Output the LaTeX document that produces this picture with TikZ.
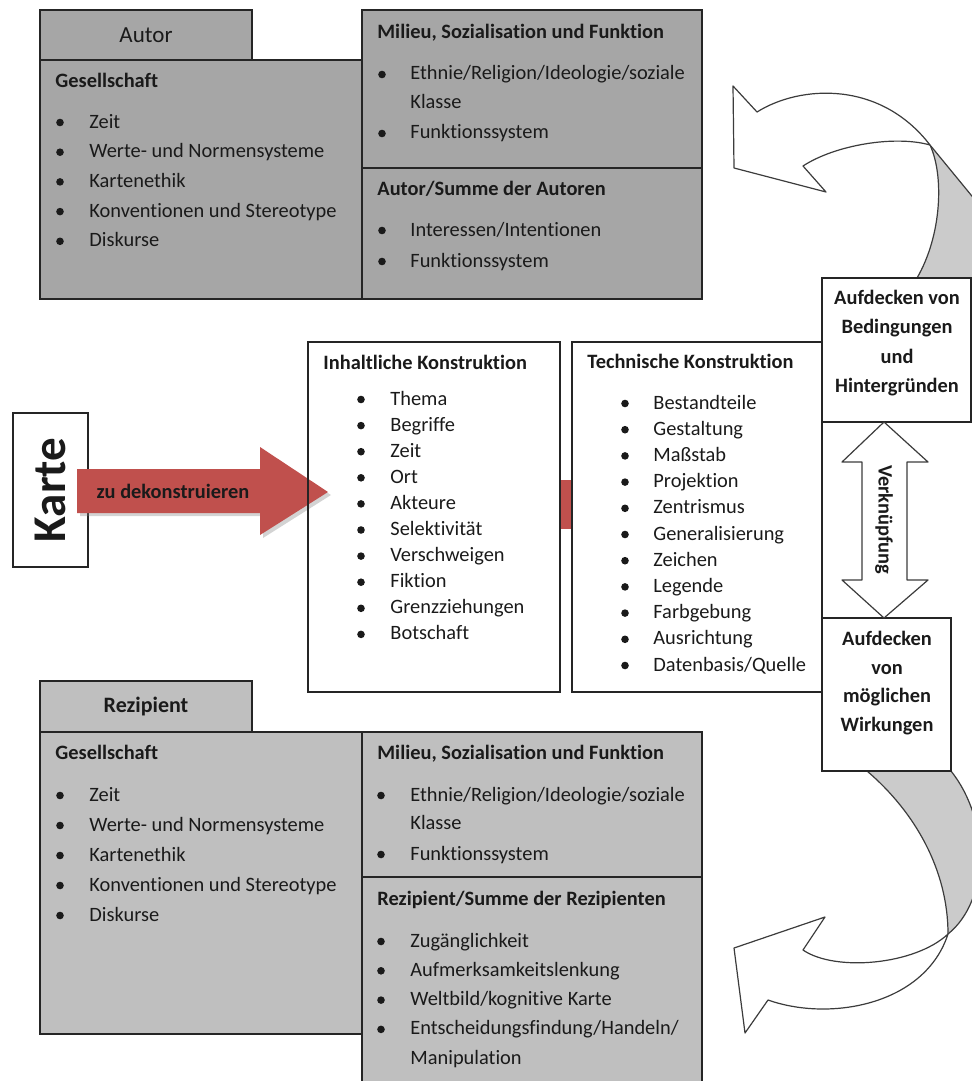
\documentclass[tikz,border=0pt]{standalone}
\usepackage{fontspec}
\setmainfont{Carlito}[Ligatures=NoCommon]
\usetikzlibrary{fit,shadows}
\definecolor{topgray}{HTML}{A6A6A6}
\definecolor{botgray}{HTML}{BFBFBF}
\definecolor{arrowred}{HTML}{C0504D}
\definecolor{bandgray}{HTML}{CBCBCB}
\definecolor{ink}{HTML}{1A1A1A}
\newcommand\fs{\fontsize{10.2}{14.7}\selectfont}
\newcommand\mylist[6]{%
  \foreach \t [count=\i] in {#6}{%
    \node[bul] (#1b\i) at (#2,{#4+(\i-1)*#5-5.5}) {};
    \node[txt] (#1t\i) at (#3,{#4+(\i-1)*#5}) {\t};
  }}
\begin{document}
\begin{tikzpicture}[x=0.5pt,y=-0.5pt,
  frame/.style={draw=ink!95, line width=1pt, inner sep=0pt, outer sep=0pt},
  gbox/.style={frame, fill=topgray},
  lbox/.style={frame, fill=botgray},
  wbox/.style={frame},
  txt/.style={inner sep=0pt, anchor=base west, font=\fs, text=ink},
  head/.style={txt, font=\fs\bfseries},
  bul/.style={circle, fill=ink, inner sep=0pt, minimum size=3.8pt},
  band/.style={draw=ink!85, line width=0.6pt, line join=round},
  ctext/.style={inner sep=0pt, font=\fs\bfseries, text=ink, align=center},
]
\useasboundingbox (0,0) rectangle (971,1081);

% ---------- top block (Autor) ----------
\node[gbox, fit={(40,10)(252,60)}] (autortab) {};
\node[gbox, fit={(40,60)(362,299)}] (gesA) {};
\node[gbox, fit={(362,10)(702,168)}] (milA) {};
\node[gbox, fit={(362,168)(702,299)}] (sumA) {};
\node[inner sep=0pt, font=\fontsize{11.5}{14}\selectfont, text=ink] (autorlbl) at (autortab.center) {Autor};

\node[head] (gesAh) at (55,88) {Gesellschaft};
\mylist{gA}{60}{89}{128}{29.7}{Zeit,Werte- und Normensysteme,Kartenethik,Konventionen und Stereotype,Diskurse}

\node[head] (milAh) at (377,39) {Milieu, Sozialisation und Funktion};
\node[bul] (milAb1) at (382,74.5) {};
\node[txt] (milAt1) at (410,80) {Ethnie/Religion/Ideologie/soziale};
\node[txt] (milAt1b) at (410,109) {Klasse};
\node[bul] (milAb2) at (382,133.5) {};
\node[txt] (milAt2) at (410,139) {Funktionssystem};

\node[head] (sumAh) at (377,195) {Autor/Summe der Autoren};
\mylist{sA}{382}{410}{236}{31}{Interessen/Intentionen,Funktionssystem}

% ---------- curved arrow top ----------
\coordinate (J) at (930,145);
\fill[bandgray] (J) -- (985,212) -- (985,278) -- (917,278)
   .. controls (942,235) and (944,175) .. (J) -- cycle;
\draw[band] (J) -- (985,212);
\draw[band] (917,278) .. controls (942,235) and (944,175) .. (J);
\draw[band, fill=white] (757,112) -- (733,86) -- (734,168) -- (826,192) -- (803,166)
   .. controls (835,145) and (895,135) .. (J)
   .. controls (880,80) and (800,85) .. (757,112) -- cycle;

% ---------- curved arrow bottom ----------
\coordinate (K) at (948,934);
\fill[bandgray] (867,771) -- (951,771) .. controls (990,820) and (990,900) .. (K)
   .. controls (948,870) and (915,812) .. (867,771) -- cycle;
\draw[band] (951,771) .. controls (990,820) and (990,900) .. (K);
\draw[band] (K) .. controls (948,870) and (915,812) .. (867,771);
\draw[band, fill=white] (K) .. controls (925,1005) and (830,1022) .. (768,1000)
   -- (745,1033) -- (734,948) -- (825,917) -- (803,950)
   .. controls (835,972) and (915,965) .. (K) -- cycle;

% ---------- middle ----------
\node[wbox, fit={(13,413)(88,567)}] (karte) {};
\node[rotate=90, inner sep=0pt, font=\fontsize{23.5}{24}\selectfont\bfseries, text=ink] (kartelbl) at (karte.center) {Karte};

\coordinate (redstart) at (77,491);
\fill[arrowred, drop shadow={opacity=0.35, shadow xshift=1.5pt, shadow yshift=-1.5pt}]
  (redstart) ++(0,-22) -- (260,469) -- (260,447) -- (328,492) -- (260,535) -- (260,513) -- (77,513) -- cycle;
\node[inner sep=0pt, font=\fs\bfseries, text=ink] (zudek) at (173,491) {zu dekonstruieren};
\fill[arrowred] (560,480) rectangle (572,529);

\node[wbox, fit={(308,342)(560,692)}] (inh) {};
\node[wbox, fit={(572,342)(822,692)}] (tech) {};

\node[head] (inhh) at (323,369) {Inhaltliche Konstruktion};
\mylist{in}{361}{390}{405}{26.1}{Thema,Begriffe,Zeit,Ort,Akteure,Selektivität,Verschweigen,Fiktion,Grenzziehungen,Botschaft}

\node[head] (techh) at (587,368) {Technische Konstruktion};
\mylist{te}{625}{653}{409}{26.2}{Bestandteile,Gestaltung,Maßstab,Projektion,Zentrismus,Generalisierung,Zeichen,Legende,Farbgebung,Ausrichtung,Datenbasis/Quelle}

\node[wbox, fit={(822,278)(971,422)}] (aufB) {};
\node[wbox, fit={(822,618)(951,771)}] (aufW) {};
\node[ctext, font=\fontsize{10.2}{14.65}\selectfont\bfseries] (aufBt) at (897,343) {Aufdecken von\\Bedingungen\\und\\Hintergründen};
\node[ctext, font=\fontsize{10.2}{14.3}\selectfont\bfseries] (aufWt) at (887,683) {Aufdecken\\von\\möglichen\\Wirkungen};

% double arrow
\coordinate (vtop) at (884,422);
\coordinate (vbot) at (884,618);
\draw[band, fill=white] (vtop) -- (928,462) -- (907,462) -- (907,580) -- (928,580) -- (vbot)
   -- (842,580) -- (862,580) -- (862,462) -- (842,462) -- cycle;
\node[rotate=-90, inner sep=0pt, font=\fs\bfseries, text=ink] (verk) at (884,520) {Verknüpfung};

% ---------- bottom block (Rezipient) ----------
\node[lbox, fit={(40,681)(252,732)}] (reztab) {};
\node[lbox, fit={(40,732)(362,1034)}] (gesR) {};
\node[lbox, fit={(362,732)(702,877)}] (milR) {};
\node[lbox, fit={(362,877)(702,1095)}] (sumR) {};
\node[inner sep=0pt, font=\fontsize{11}{14}\selectfont\bfseries, text=ink] (rezlbl) at (reztab.center) {Rezipient};

\node[head] (gesRh) at (55,759) {Gesellschaft};
\mylist{gR}{60}{89}{801}{30}{Zeit,Werte- und Normensysteme,Kartenethik,Konventionen und Stereotype,Diskurse}

\node[head] (milRh) at (377,759) {Milieu, Sozialisation und Funktion};
\node[bul] (milRb1) at (381,795.5) {};
\node[txt] (milRt1) at (410,801) {Ethnie/Religion/Ideologie/soziale};
\node[txt] (milRt1b) at (410,829) {Klasse};
\node[bul] (milRb2) at (381,854.5) {};
\node[txt] (milRt2) at (410,860) {Funktionssystem};

\node[head] (sumRh) at (377,905) {Rezipient/Summe der Rezipienten};
\mylist{sR}{381}{410}{947}{29.3}{Zugänglichkeit,Aufmerksamkeitslenkung,Weltbild/kognitive Karte,Entscheidungsfindung/Handeln/}
\node[txt] (sRt5) at (410,1064) {Manipulation};
\end{tikzpicture}
\end{document}
